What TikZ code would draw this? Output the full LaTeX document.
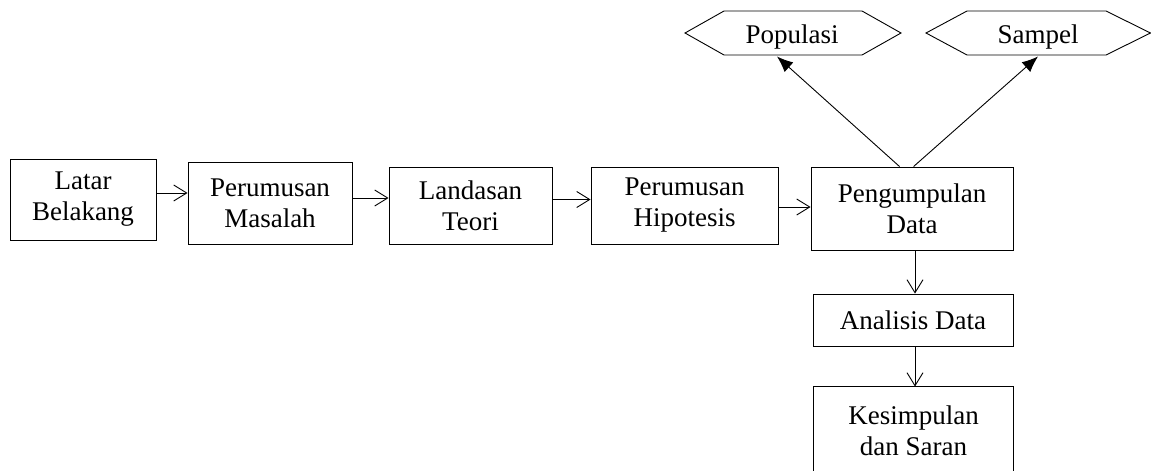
\documentclass[tikz,border=0pt]{standalone}
\usepackage{fontspec}
\setmainfont{Liberation Serif}
\usetikzlibrary{arrows.meta,calc}
\begin{document}
\begin{tikzpicture}[x=1pt,y=-1pt,
  box/.style={draw, line width=0.9pt, align=center, inner sep=0pt, font=\fontsize{27}{31}\selectfont},
  hexlabel/.style={inner sep=0pt, font=\fontsize{27}{31}\selectfont},
  hexshape/.style={draw, line width=0.9pt},
  flow/.style={line width=0.9pt, -{Straight Barb[length=13pt,width=16pt,line width=0.9pt]}},
  upflow/.style={line width=0.9pt, -{Latex[length=16pt,width=13pt]}}]
\useasboundingbox (0,0) rectangle (1151,471);

% main boxes
\node[box, minimum width=146pt, minimum height=81pt] (latar) at (83,199.5) {Latar\\Belakang};
\node[box, minimum width=164pt, minimum height=82pt] (masalah) at (270,203) {Perumusan\\Masalah};
\node[box, minimum width=163pt, minimum height=77pt] (teori) at (470.5,205.5) {Landasan\\Teori};
\node[box, minimum width=187pt, minimum height=77pt] (hipo) at (684.5,205.5) {Perumusan\\Hipotesis};
\node[box, minimum width=202pt, minimum height=83pt] (kumpul) at (912,208.5) {Pengumpulan\\Data};
\node[box, minimum width=200pt, minimum height=52pt] (analisis) at (913,320) {Analisis Data};
\node[box, draw=none, minimum width=199pt, minimum height=87pt] (simpul) at (913.5,430.5) {Kesimpulan\\dan Saran};
\draw[line width=0.9pt] ($(simpul.south west)+(0,20)$) -- (simpul.north west) -- (simpul.north east) -- ($(simpul.south east)+(0,20)$);

% hexagons
\draw[hexshape] (685,33) -- (724,11) -- (862,11) -- (901,33) -- (862,55) -- (724,55) -- cycle;
\draw[hexshape] (926,33) -- (967,11) -- (1106,11) -- (1150.5,33) -- (1106,55) -- (967,55) -- cycle;
\node[hexlabel, anchor=base] (pop) at (792,43) {Populasi};
\node[hexlabel, anchor=base] (sampel) at (1038,43) {Sampel};
\coordinate (popB) at (777,56.5);
\coordinate (sampB) at (1038,56.5);

% horizontal flow
\draw[flow] (latar.east |- 0,193) -- (masalah.west |- 0,193);
\draw[flow] (masalah.east |- 0,198) -- (teori.west |- 0,198);
\draw[flow] (teori.east |- 0,199.5) -- (hipo.west |- 0,199.5);
\draw[flow] (hipo.east |- 0,207) -- (kumpul.west |- 0,207);

% vertical flow
\draw[flow] (kumpul.south -| 915,0) -- (analisis.north -| 915,0);
\draw[flow] (analisis.south -| 915,0) -- (simpul.north -| 915,0);

% up to hexagons
\draw[upflow] ($(kumpul.north west)+(89,0)$) -- (popB);
\draw[upflow] ($(kumpul.north west)+(103,0)$) -- (sampB);
\end{tikzpicture}
\end{document}
